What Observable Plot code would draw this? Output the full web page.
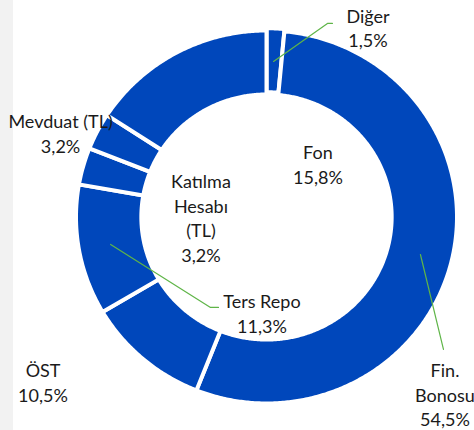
<!DOCTYPE html>
<html>
<head>
<meta charset="utf-8">
<script src="https://cdn.jsdelivr.net/npm/d3@7"></script>
<script src="https://cdn.jsdelivr.net/npm/@observablehq/plot@0.6"></script>
<style>
  html, body { margin: 0; padding: 0; }
  body {
    width: 474px; height: 430px; overflow: hidden;
    background: linear-gradient(to right, #f2f2f2 0, #f2f2f2 13px, #ffffff 13px);
  }
  #chart svg { display: block; background: transparent; }
</style>
</head>
<body>
<div id="chart"></div>
<script>
// ---- data ----
const categories = ["Diğer", "Fin. Bonosu", "ÖST", "Ters Repo", "Katılma Hesabı (TL)", "Mevduat (TL)", "Fon"];
const shares = [1.5, 54.5, 10.5, 11.3, 3.2, 3.2, 15.8];
const labelNames = ["Diğer", "Fin.\nBonosu", "ÖST", "Ters Repo", "Katılma\nHesabı\n(TL)", "Mevduat (TL)", "Fon"];

// ---- layout (chart units: ring outer radius = 1) ----
const labelPos = [
  [0.533, 1.136],   // Diğer
  [0.937, -0.765],  // Fin. Bonosu
  [-1.173, -0.765], // ÖST
  [-0.024, -0.395], // Ters Repo
  [-0.344, 0.248],  // Katılma Hesabı
  [-1.081, 0.570],  // Mevduat
  [0.270, 0.404]    // Fon
];
const leaders = [
  {label: "Diğer", pts: [[0.346, 1.038], [0.320, 1.038], [0.037, 0.834]]},
  {label: "Ters Repo", pts: [[-0.252, -0.485], [-0.294, -0.485], [-0.818, -0.147]]},
  {label: "Fin. Bonosu", pts: [[0.808, -0.201], [0.929, -0.710]]}
];
const R_OUT = 1, R_IN = 0.657;
const explode = {0: 0.012};

// ---- donut geometry from the shares ----
const pie = d3.pie().sort(null).value(d => d)(shares);
const ring = [];
pie.forEach((p, i) => {
  const off = explode[i] || 0;
  const mid = (p.startAngle + p.endAngle) / 2;
  const ox = off * Math.sin(mid), oy = off * Math.cos(mid);
  const n = Math.max(2, Math.ceil((p.endAngle - p.startAngle) / (Math.PI / 360)));
  const pts = [];
  for (let k = 0; k <= n; k++) {
    const a = p.startAngle + (p.endAngle - p.startAngle) * k / n;
    pts.push([R_OUT * Math.sin(a), R_OUT * Math.cos(a)]);
  }
  for (let k = n; k >= 0; k--) {
    const a = p.startAngle + (p.endAngle - p.startAngle) * k / n;
    pts.push([R_IN * Math.sin(a), R_IN * Math.cos(a)]);
  }
  pts.forEach(([x, y]) => ring.push({slice: categories[i], x: x + ox, y: y + oy}));
});

const fmt = v => d3.format(".1f")(v).replace(".", ",") + "%";
const labels = categories.map((c, i) => ({
  text: labelNames[i] + "\n" + fmt(shares[i]),
  x: labelPos[i][0], y: labelPos[i][1]
}));
const leaderPts = leaders.flatMap(l => l.pts.map(([x, y]) => ({label: l.label, x, y})));

const chart = Plot.plot({
  width: 474,
  height: 430,
  margin: 0,
  x: {domain: [-1, 1], range: [75.5, 456.5], axis: null},
  y: {domain: [-1, 1], range: [403, 30], axis: null},
  style: {fontFamily: "Lato, sans-serif", fontSize: "18px", background: "transparent", color: "#1a1a1a"},
  marks: [
    Plot.line(ring, {x: "x", y: "y", z: "slice", fill: "#0047bb", stroke: "#ffffff",
      strokeWidth: 4, curve: "linear-closed", strokeLinejoin: "miter", strokeMiterlimit: 4}),
    Plot.line(leaderPts, {x: "x", y: "y", z: "label", stroke: "#5fb548", strokeWidth: 1.2}),
    Plot.text(labels, {x: "x", y: "y", text: "text", textAnchor: "middle", lineAnchor: "top",
      lineHeight: 1.36, fontSize: 18, fill: "#1a1a1a"})
  ]
});
document.getElementById("chart").appendChild(chart);
</script>
</body>
</html>
